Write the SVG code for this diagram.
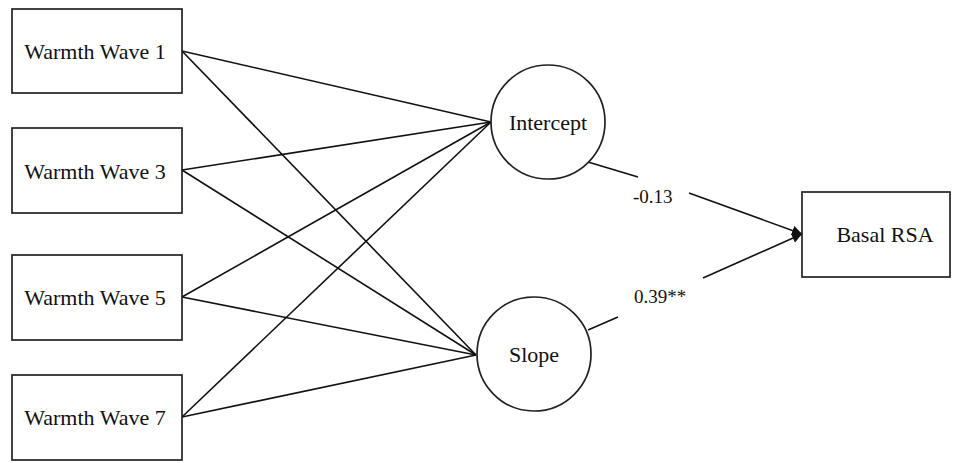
<svg xmlns="http://www.w3.org/2000/svg" width="960" height="463" viewBox="0 0 960 463">
<style>
.box{fill:#fff;stroke:#222;stroke-width:1.7}
.lat{fill:#fff;stroke:#222;stroke-width:1.7}
.t{font-family:"Liberation Serif",serif;font-size:22px;fill:#111;text-anchor:middle}
.lbl{font-family:"Liberation Serif",serif;font-size:19px;fill:#111;text-anchor:start}
.c{stroke:#111;stroke-width:1.6;fill:none}
</style>
<defs>
<marker id="arr" viewBox="0 0 10 10" refX="10" refY="5" markerWidth="10" markerHeight="10" markerUnits="userSpaceOnUse" orient="auto">
<path d="M0,0 L10,5 L0,10 z" fill="#111"/>
</marker>
</defs>
<g id="connectors">
<line class="c" x1="182" y1="51" x2="491" y2="122"/>
<line class="c" x1="182" y1="51" x2="476" y2="355"/>
<line class="c" x1="182" y1="170" x2="491" y2="122"/>
<line class="c" x1="182" y1="170" x2="476" y2="355"/>
<line class="c" x1="182" y1="297" x2="491" y2="122"/>
<line class="c" x1="182" y1="297" x2="476" y2="355"/>
<line class="c" x1="182" y1="417" x2="491" y2="122"/>
<line class="c" x1="182" y1="417" x2="476" y2="355"/>
<line class="c" x1="588" y1="162" x2="638" y2="177"/>
<line class="c" x1="689" y1="193" x2="802" y2="234" marker-end="url(#arr)"/>
<line class="c" x1="588" y1="330" x2="618" y2="317"/>
<line class="c" x1="703" y1="278" x2="802" y2="234" marker-end="url(#arr)"/>
<text class="lbl" x="633" y="203">-0.13</text>
<text class="lbl" x="634" y="303">0.39**</text>
</g>
<g id="w1"><rect class="box" x="12" y="9" width="170" height="84"/><text class="t" x="95" y="59">Warmth Wave 1</text></g>
<g id="w3"><rect class="box" x="12" y="128" width="170" height="85"/><text class="t" x="95" y="179">Warmth Wave 3</text></g>
<g id="w5"><rect class="box" x="12" y="255" width="170" height="85"/><text class="t" x="95" y="305">Warmth Wave 5</text></g>
<g id="w7"><rect class="box" x="12" y="375" width="170" height="85"/><text class="t" x="95" y="425">Warmth Wave 7</text></g>
<g id="intercept"><circle class="lat" cx="548" cy="122" r="57"/><text class="t" x="548" y="130">Intercept</text></g>
<g id="slope"><circle class="lat" cx="534" cy="354" r="57"/><text class="t" x="534" y="362">Slope</text></g>
<g id="basal"><rect class="box" x="802" y="192" width="148" height="85"/><text class="t" x="885" y="242">Basal RSA</text></g>
</svg>
